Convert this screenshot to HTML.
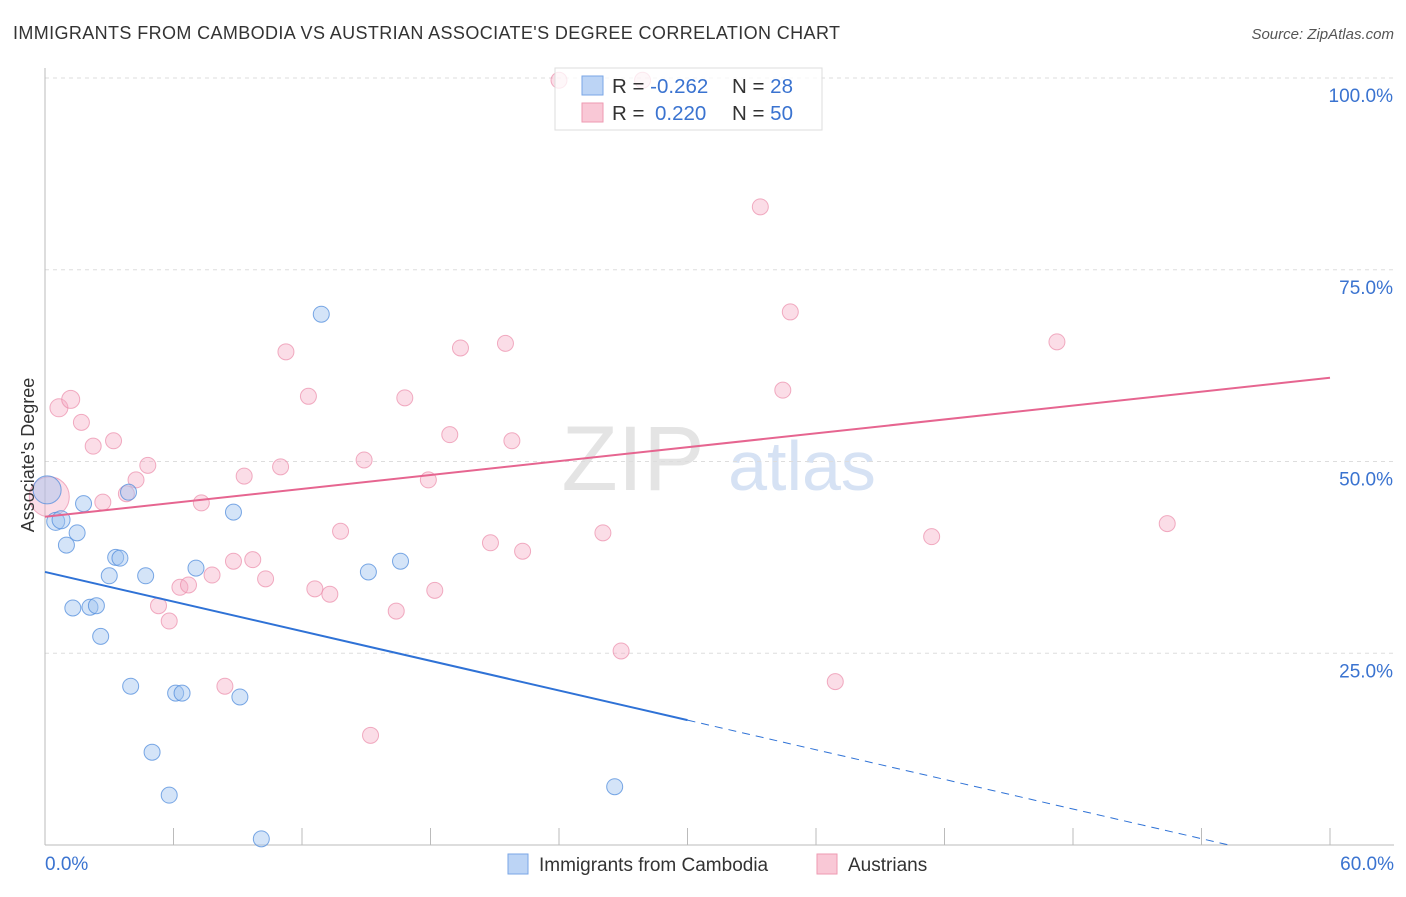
<!DOCTYPE html>
<html><head><meta charset="utf-8"><style>
body{margin:0;background:#fff;font-family:"Liberation Sans",sans-serif}
svg text{font-family:"Liberation Sans",sans-serif}
</style></head><body>
<svg id="chart" width="1406" height="892" viewBox="0 0 1406 892">
<text x="13" y="39" font-size="18" fill="#333" textLength="827">IMMIGRANTS FROM CAMBODIA VS AUSTRIAN ASSOCIATE'S DEGREE CORRELATION CHART</text>
<text x="1394" y="39" font-size="15" fill="#555" font-style="italic" text-anchor="end">Source: ZipAtlas.com</text>
<text x="633" y="490" font-size="92" fill="#e4e4e4" font-family="Liberation Serif" text-anchor="middle">ZIP</text>
<text x="802" y="490" font-size="70" fill="#d6e2f4" text-anchor="middle">atlas</text>
<g id="grid"></g><g id="axes"></g><g id="pts"></g><g id="lines"></g>
<text transform="translate(34,455) rotate(-90)" font-size="18" fill="#333" text-anchor="middle">Associate's Degree</text>
<g>
<rect x="555" y="68" width="267" height="62" fill="rgba(255,255,255,0.75)" stroke="#ddd"/>
<rect x="582" y="76" width="21" height="19" fill="#bcd4f5" stroke="#7aa6e6"/>
<rect x="582" y="103" width="21" height="19" fill="#f9c8d6" stroke="#ee9ab2"/>
<text x="612" y="93" font-size="20.5" fill="#333">R = <tspan fill="#3a73d0">-0.262</tspan><tspan x="732">N = </tspan><tspan fill="#3a73d0">28</tspan></text>
<text x="612" y="120" font-size="20.5" fill="#333">R = <tspan x="655" fill="#3a73d0">0.220</tspan><tspan x="732">N = </tspan><tspan fill="#3a73d0">50</tspan></text>
</g>
<g>
<rect x="508" y="854" width="20" height="20" fill="#bcd4f5" stroke="#7aa6e6"/>
<text x="539" y="871" font-size="19" fill="#333">Immigrants from Cambodia</text>
<rect x="817" y="854" width="20" height="20" fill="#f9c8d6" stroke="#ee9ab2"/>
<text x="848" y="871" font-size="19" fill="#333">Austrians</text>
</g>
</svg>
<script>
const yTicks=[25,50,75,100];
const yTickLabels=["25.0%","50.0%","75.0%","100.0%"];
const xTickLabels=["0.0%","60.0%"];
const blueX=[0.1,0.5,0.75,1.0,1.5,1.8,3.0,3.3,3.5,3.9,1.3,2.1,2.4,2.6,4.0,4.7,5.0,5.8,6.1,6.4,7.05,8.8,9.1,10.1,12.9,15.1,16.6,26.6];
const blueY=[46.3,42.2,42.4,39.1,40.7,44.5,35.1,37.5,37.4,46.0,30.9,31.0,31.2,27.2,20.7,35.1,12.1,6.5,19.8,19.8,36.1,43.4,19.3,0.8,69.2,35.6,37.0,7.6];
const blueR=[14,9,9,8,8,8,8,8,8,8,8,8,8,8,8,8,8,8,8,8,8,8,8,8,8,8,8,8];
const pinkX=[0.2,0.65,1.2,1.7,2.25,2.7,3.2,3.8,4.25,4.8,5.3,5.8,6.3,6.7,7.3,7.8,8.4,8.8,9.3,9.7,10.3,11.0,11.25,12.3,12.6,13.3,13.8,14.9,15.2,16.4,16.8,17.9,18.2,18.9,19.4,20.8,21.5,21.8,22.3,24.0,26.05,26.9,27.9,33.4,34.45,34.8,36.9,41.4,47.25,52.4];
const pinkY=[45.4,57.0,58.1,55.1,52.0,44.7,52.7,45.8,47.6,49.5,31.2,29.2,33.6,33.9,44.6,35.2,20.7,37.0,48.1,37.2,34.7,49.3,64.3,58.5,33.4,32.7,40.9,50.2,14.3,30.5,58.3,47.6,33.2,53.5,64.8,39.4,65.4,52.7,38.3,99.7,40.7,25.3,99.7,83.2,59.3,69.5,21.3,40.2,65.6,41.9];
const pinkR=[20,9,9,8,8,8,8,8,8,8,8,8,8,8,8,8,8,8,8,8,8,8,8,8,8,8,8,8,8,8,8,8,8,8,8,8,8,8,8,8,8,8,8,8,8,8,8,8,8,8];
const blueTrend=[35.6,-0.644];
const pinkTrend=[42.8,0.302];
const X=v=>45+v/60*1285, Y=v=>845-v/100*767;
const NS="http://www.w3.org/2000/svg";
function mk(p,t,a){const e=document.createElementNS(NS,t);for(const k in a)e.setAttribute(k,a[k]);document.getElementById(p).appendChild(e);return e;}
yTicks.forEach((t,i)=>{
 const g=mk('grid','line',{x1:45,x2:1394,y1:Y(t),y2:Y(t),stroke:'#ddd','stroke-dasharray':'4,4'});
 
 
 const l=mk('axes','text',{x:1393,y:Y(t)+24,'font-size':19,fill:'#3a73d0','text-anchor':'end'});l.textContent=yTickLabels[i];
 
 
});
const ax=mk('axes','line',{x1:45,x2:45,y1:68,y2:845,stroke:'#bbb'});


const bx=mk('axes','line',{x1:45,x2:1394,y1:845,y2:845,stroke:'#bbb'});


for(let i=0;i<=10;i++){const t=mk('axes','line',{x1:X(i*6),x2:X(i*6),y1:828,y2:845,stroke:'#bbb'});
 
 }
const l0=mk('axes','text',{x:45,y:870,'font-size':19,fill:'#3a73d0'});l0.textContent=xTickLabels[0];


const l1=mk('axes','text',{x:1394,y:870,'font-size':19,fill:'#3a73d0','text-anchor':'end'});l1.textContent=xTickLabels[1];


pinkX.forEach((x,i)=>{const c=mk('pts','circle',{cx:X(x),cy:Y(pinkY[i]),r:pinkR[i],fill:'rgba(246,170,195,0.4)',stroke:'rgba(235,140,170,0.7)'});
 
 });
blueX.forEach((x,i)=>{const c=mk('pts','circle',{cx:X(x),cy:Y(blueY[i]),r:blueR[i],fill:'rgba(160,195,240,0.45)',stroke:'rgba(80,140,220,0.75)'});
 
 });
const bf=v=>blueTrend[0]+blueTrend[1]*v, pf=v=>pinkTrend[0]+pinkTrend[1]*v;
const b1=mk('lines','line',{x1:X(0),y1:Y(bf(0)),x2:X(30),y2:Y(bf(30)),stroke:'#2f72d6','stroke-width':2});


const xe=-blueTrend[0]/blueTrend[1];
const b2=mk('lines','line',{x1:X(30),y1:Y(bf(30)),x2:X(xe),y2:Y(0),stroke:'#2f72d6','stroke-width':1,'stroke-dasharray':'8,6'});


const p1=mk('lines','line',{x1:X(0),y1:Y(pf(0)),x2:X(60),y2:Y(pf(60)),stroke:'#e66590','stroke-width':2});


</script>
</body></html>
